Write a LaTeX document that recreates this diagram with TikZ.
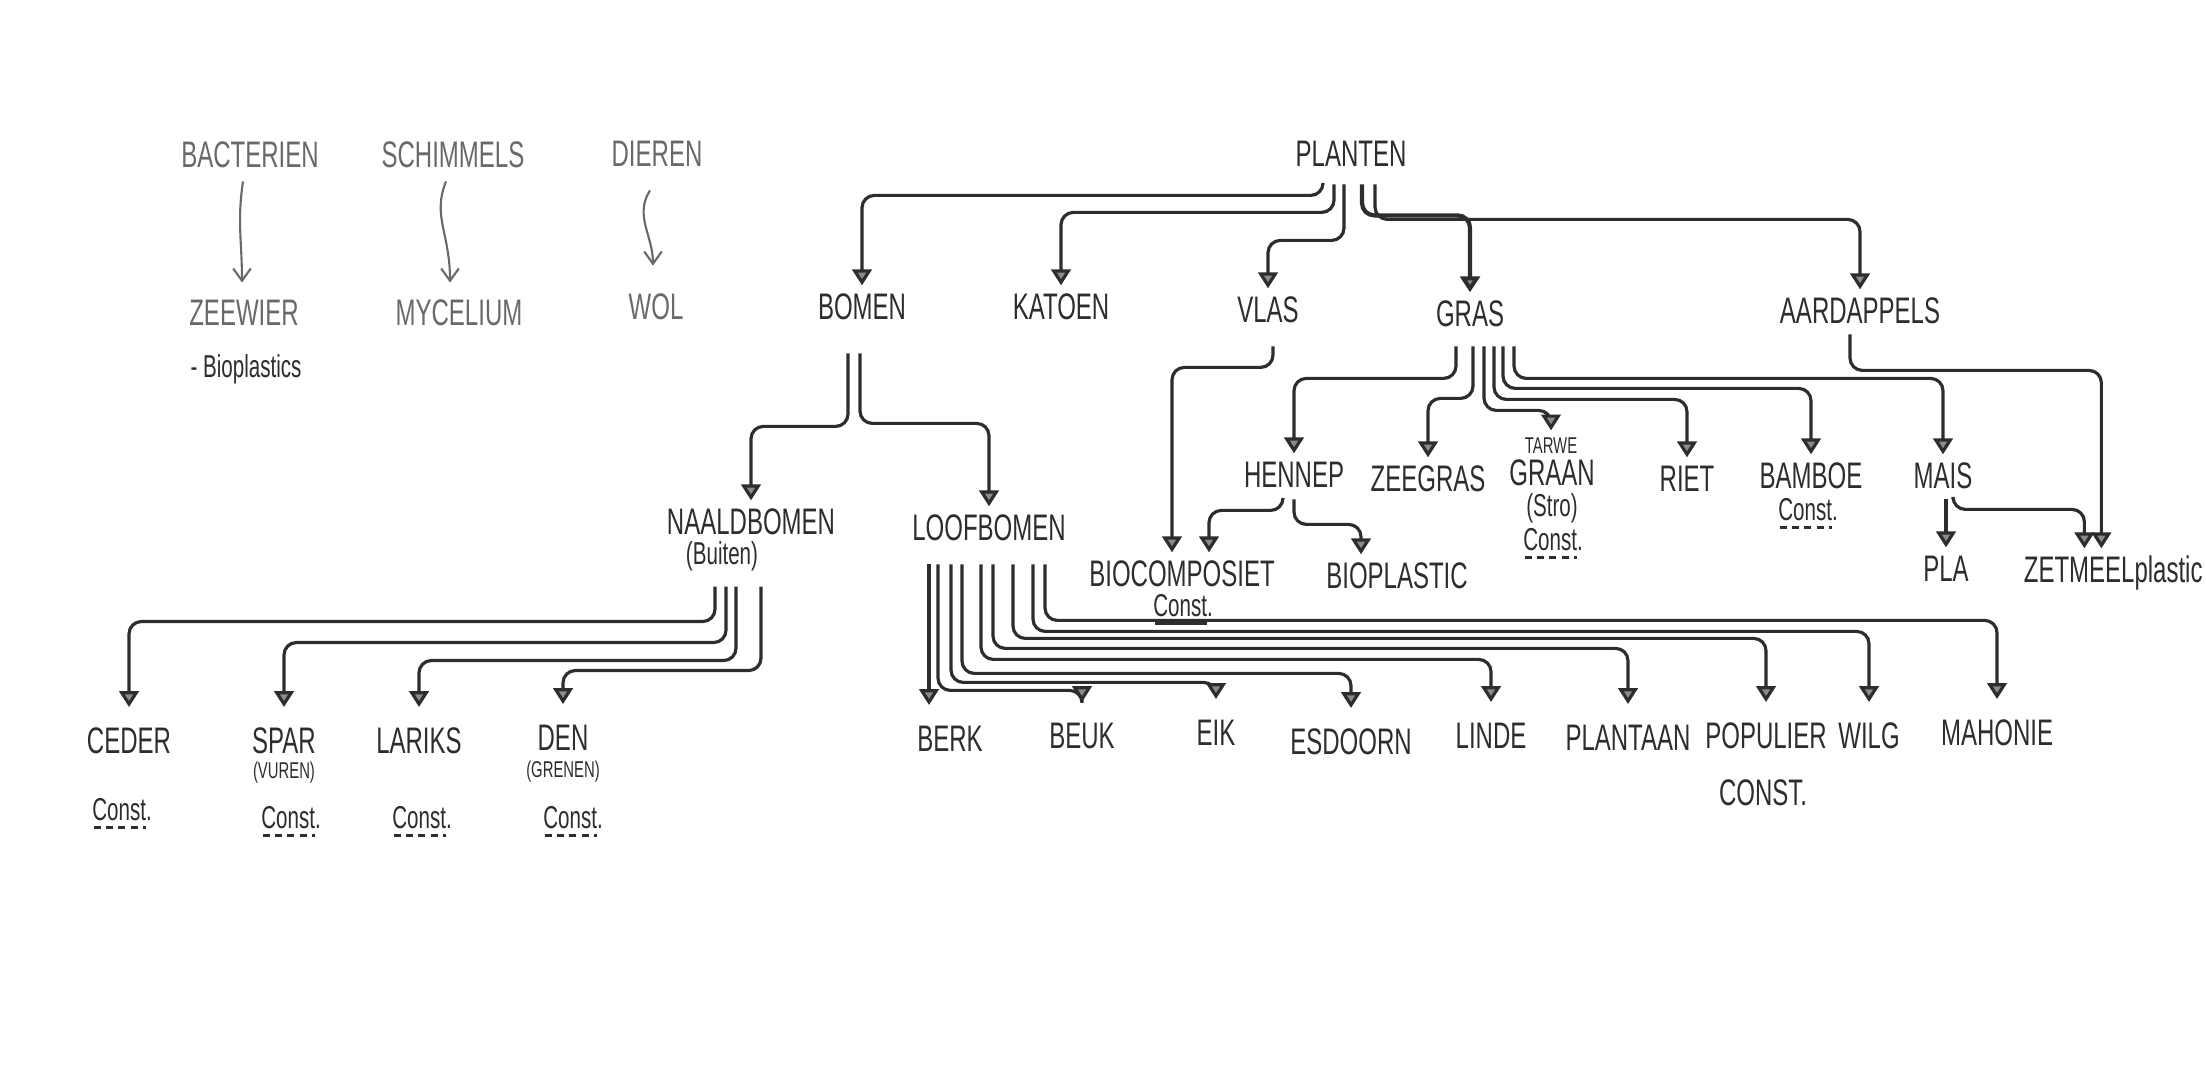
\documentclass[tikz,border=0pt]{standalone}
\usepackage{fontspec}
\setmainfont{Liberation Sans}[FakeStretch=0.65]
\usepackage{xcolor}
\usepackage{tikz}
\usetikzlibrary{arrows.meta, positioning, calc}
\definecolor{pencil}{RGB}{45,45,45}
\definecolor{softpencil}{RGB}{105,105,105}

\begin{document}
\begin{tikzpicture}[
    x=0.01cm, y=-0.01cm,
    item/.style={inner sep=0.5pt, text=pencil, text height=7.5pt, text depth=1pt, font=\fontsize{10.5}{12}\selectfont},
    faint/.style={item, text=softpencil},
    note/.style={item, text height=6.5pt, text depth=1.5pt, font=\fontsize{9}{10}\selectfont},
    tiny/.style={item, text height=4.5pt, text depth=0pt, font=\fontsize{6.5}{7}\selectfont},
    tree/.style={draw=pencil, line width=0.9pt, rounded corners=3.5pt, shorten >=1.5pt, -{Triangle[width=5.5pt, length=4.5pt, fill=pencil!55]}},
    low/.style={shorten >=5pt},
    wavy/.style={draw=softpencil, line width=0.6pt, -{Straight Barb[length=3.5pt, width=5pt]}},
    dashunder/.style={draw=pencil, line width=0.6pt, dash pattern=on 2pt off 1.5pt}
]
    \path[use as bounding box, fill=white] (0,0) rectangle (2206,1082);

    % left group
    \node[faint] (bact) at (250,156) {BACTERIEN};
    \node[faint] (schim) at (453,156) {SCHIMMELS};
    \node[faint] (dieren) at (657,155) {DIEREN};
    \node[faint] (zeewier) at (244,314) {ZEEWIER};
    \node[faint] (mycel) at (459,314) {MYCELIUM};
    \node[faint] (wol) at (656,308) {WOL};
    \node[note] (bioplastics) at (246,369) {- Bioplastics};

    \draw[wavy] ($(bact.south)+(-7,8)$) .. controls +(-6,40) and +(0,-40) .. ($(zeewier.north)+(-2,-14)$);
    \draw[wavy] ($(schim.south)+(-7,8)$) .. controls +(-14,35) and +(0,-50) .. ($(mycel.north)+(-9,-14)$);
    \draw[wavy] ($(dieren.south)+(-7,18)$) .. controls +(-16,25) and +(0,-30) .. ($(wol.north)+(-3,-25)$);

    % planten
    \node[item] (planten) at (1351,155) {PLANTEN};
    \node[item] (bomen) at (862,308) {BOMEN};
    \node[item] (katoen) at (1061,308) {KATOEN};
    \node[item] (vlas) at (1268,311) {VLAS};
    \node[item] (gras) at (1470,315) {GRAS};
    \node[item] (aardap) at (1860,312) {AARDAPPELS};

    \draw[tree] ($(planten.south)+(-28,12)$) -- ++(0,11) -| (bomen.north);
    \draw[tree] ($(planten.south)+(-17,12)$) -- ++(0,28) -| (katoen.north);
    \draw[tree] ($(planten.south)+(-7,12)$) -- ++(0,56) -| (vlas.north);
    \draw[tree, line width=1.2pt] ($(planten.south)+(11,12)$) -- ++(0,31) -| (gras.north);
    \draw[tree] ($(planten.south)+(24,12)$) -- ++(0,35) -| (aardap.north);

    % bomen
    \node[item] (naald) at (751,523) {NAALDBOMEN};
    \node[note] (buiten) at (722,556) {(Buiten)};
    \node[item] (loof) at (989,529) {LOOFBOMEN};

    \draw[tree] ($(bomen.south)+(-14,28)$) -- ++(0,73) -| (naald.north);
    \draw[tree] ($(bomen.south)+(-2,28)$) -- ++(0,70) -| (loof.north);

    % gras
    \node[item] (hennep) at (1294,476) {HENNEP};
    \node[item] (zeegras) at (1428,480) {ZEEGRAS};
    \node[tiny] (tarwe) at (1551,446) {TARWE};
    \node[item] (graan) at (1552,474) {GRAAN};
    \node[note] (stro) at (1552,508) {(Stro)};
    \node[note] (cgraan) at (1553,542) {Const.};
    \node[item] (riet) at (1687,480) {RIET};
    \node[item] (bamboe) at (1811,477) {BAMBOE};
    \node[note] (cbamboe) at (1808,512) {Const.};
    \node[item] (mais) at (1943,477) {MAIS};

    \draw[tree] ($(gras.south)+(-14,14)$) -- ++(0,32) -| (hennep.north);
    \draw[tree] ($(gras.south)+(3,14)$) -- ++(0,52) -| (zeegras.north);
    \draw[tree] ($(gras.south)+(14,14)$) -- ++(0,64) -| (tarwe.north);
    \draw[tree] ($(gras.south)+(24,14)$) -- ++(0,53) -| (riet.north);
    \draw[tree] ($(gras.south)+(33,14)$) -- ++(0,42) -| (bamboe.north);
    \draw[tree] ($(gras.south)+(44,14)$) -- ++(0,32) -| (mais.north);

    % products
    \node[item] (biocomp) at (1182,575) {BIOCOMPOSIET};
    \node[note] (cbiocomp) at (1183,608) {Const.};
    \node[item] (bioplast) at (1397,577) {BIOPLASTIC};
    \node[item] (pla) at (1946,570) {PLA};
    \node[item, anchor=east] (zetmeel) at (2205,571) {ZETMEELplastic};

    \draw[tree] ($(vlas.south)+(5,18)$) -- ++(0,21) -| ($(biocomp.north)+(-10,0)$);
    \draw[tree] ($(hennep.south)+(-11,6)$) -- ++(0,11) -| ($(biocomp.north)+(27,0)$);
    \draw[tree] ($(hennep.south)+(0,6)$) -- ++(0,25) -| ($(bioplast.north)+(-36,0)$);
    \draw[tree] ($(aardap.south)+(-10,5)$) -- ++(0,36) -| ($(zetmeel.north west)+(80,0)$);
    \draw[tree] ($(mais.south)+(3,5)$) -- (pla.north);
    \draw[tree] ($(mais.south)+(10,5)$) -- ++(0,10) -| ($(zetmeel.north west)+(63,0)$);

    % naaldbomen
    \node[item] (ceder) at (129,742) {CEDER};
    \node[item] (spar) at (284,742) {SPAR};
    \node[tiny] (vuren) at (284,771) {(VUREN)};
    \node[item] (lariks) at (419,742) {LARIKS};
    \node[item] (den) at (563,739) {DEN};
    \node[tiny] (grenen) at (563,770) {(GRENEN)};
    \node[note] (cceder) at (122,812) {Const.};
    \node[note] (cspar) at (291,820) {Const.};
    \node[note] (clariks) at (422,820) {Const.};
    \node[note] (cden) at (573,820) {Const.};

    \foreach \n/\dx/\dy in {ceder/-7/35, spar/4/56, lariks/14/74, den/39/84}
        \draw[tree, low] ($(buiten.south)+(\dx,14)$) -- ++(0,\dy) -| (\n.north);

    % loofbomen
    \node[item] (berk) at (950,740) {BERK};
    \node[item] (beuk) at (1082,737) {BEUK};
    \node[item] (eik) at (1216,734) {EIK};
    \node[item] (esdoorn) at (1351,743) {ESDOORN};
    \node[item] (linde) at (1491,737) {LINDE};
    \node[item] (plantaan) at (1628,739) {PLANTAAN};
    \node[item] (populier) at (1766,737) {POPULIER};
    \node[item] (wilg) at (1869,737) {WILG};
    \node[item] (mahonie) at (1997,734) {MAHONIE};
    \node[item] (cpop) at (1763,794) {CONST.};

    \draw[tree, low] ($(loof.south)+(-60,18)$) -- ($(berk.north)+(-21,0)$);
    \foreach \n/\dx/\dy in {beuk/-51/126, eik/-38/118, esdoorn/-27/109, linde/-8/95, plantaan/4/84, populier/24/74, wilg/44/67, mahonie/56/56}
        \draw[tree, low] ($(loof.south)+(\dx,18)$) -- ++(0,\dy) -| (\n.north);

    % underlines
    \foreach \c in {cceder, cspar, clariks, cden, cgraan, cbamboe}
        \draw[dashunder] ($(\c.south west)+(4,-1)$) -- ($(\c.south east)+(-8,-1)$);
    \draw[pencil, line width=0.6pt] ($(cbiocomp.south west)+(4,-1)$) -- ($(cbiocomp.south east)+(-8,-1)$);
\end{tikzpicture}
\end{document}
